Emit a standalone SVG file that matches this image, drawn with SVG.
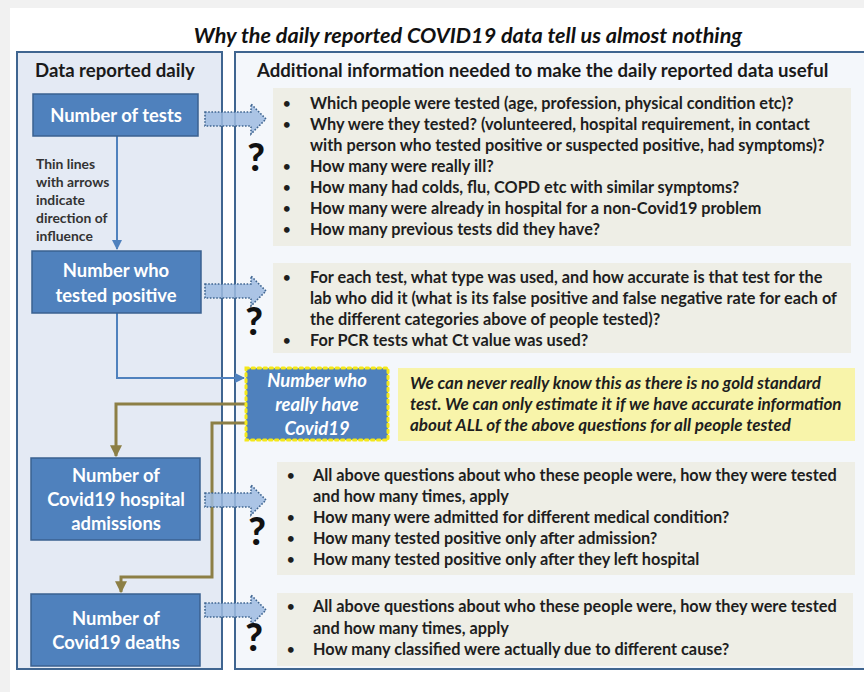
<svg xmlns="http://www.w3.org/2000/svg" width="864" height="692" viewBox="0 0 864 692">
  <style>
    .title { font-family: Lato, "Liberation Sans", sans-serif; font-weight: 700; font-style: italic; font-size: 21.6px; fill: #111; }
    .head { font-family: Lato, "Liberation Sans", sans-serif; font-weight: 700; font-size: 18.6px; fill: #1a1a1a; }
    .panel { stroke: #3f6590; stroke-width: 2; }
    .node rect { fill: #4f81bd; stroke: #3a6190; stroke-width: 1.5; }
    .node text { font-family: Lato, "Liberation Sans", sans-serif; font-weight: 700; font-size: 18.4px; fill: #ffffff; text-anchor: middle; }
    .note { font-family: Lato, "Liberation Sans", sans-serif; font-weight: 700; font-size: 13.9px; fill: #333; }
    .info { fill: #eeeee6; }
    .txt { font-family: Lato, "Liberation Sans", sans-serif; font-weight: 700; font-size: 16.3px; fill: #1e1e1e; }
    .bul { font-family: Lato, "Liberation Sans", sans-serif; font-weight: 700; font-size: 13px; fill: #1e1e1e; }
    .yel { font-family: Lato, "Liberation Sans", sans-serif; font-weight: 700; font-style: italic; font-size: 17px; fill: #1e1e1e; }
    .q { font-family: Lato, "Liberation Sans", sans-serif; font-weight: 900; font-size: 38px; fill: #111; text-anchor: middle; }
    .blk { fill: #9dbbe0; fill-opacity: 0.85; stroke: #3f6590; stroke-width: 1.6; stroke-dasharray: 1.6 1.6; }
    .blue { fill: none; stroke: #4f81bd; stroke-width: 2; }
    .olive { fill: none; stroke: #8c7f45; stroke-width: 3; }
  </style>
  <defs>
    <marker id="arrBlue" viewBox="0 0 10 10" refX="9" refY="5" markerWidth="5" markerHeight="5" orient="auto" markerUnits="strokeWidth">
      <path d="M0,0 L10,5 L0,10 Z" fill="#4f81bd"/>
    </marker>
    <marker id="arrOlive" viewBox="0 0 10 10" refX="9" refY="5" markerWidth="4" markerHeight="4" orient="auto" markerUnits="strokeWidth">
      <path d="M0,0 L10,5 L0,10 Z" fill="#8c7f45"/>
    </marker>
    <path id="blockArrow" d="M0,-7 L46,-7 L46,-15 L61,0 L46,15 L46,7 L0,7 Z"/>
  </defs>

  <!-- page and card -->
  <rect x="0" y="0" width="864" height="692" fill="#f1f1f1"/>
  <rect x="10" y="8" width="860" height="690" fill="#ffffff"/>

  <text class="title" x="468" y="43" text-anchor="middle">Why the daily reported COVID19 data tell us almost nothing</text>

  <!-- panels -->
  <rect class="panel" x="17" y="52" width="205" height="617" fill="#e4eaf4"/>
  <rect class="panel" x="235" y="52" width="640" height="617" fill="#f4f7fb"/>
  <text class="head" x="35" y="77">Data reported daily</text>
  <text class="head" x="257" y="77">Additional information needed to make the daily reported data useful</text>

  <!-- information boxes -->
  <g id="info-tests">
    <rect class="info" x="273" y="88" width="578" height="158"/>
    <text class="bul" x="283" y="108">•</text><text class="txt" x="310" y="109">Which people were tested (age, profession, physical condition etc)?</text>
    <text class="bul" x="283" y="129">•</text><text class="txt" x="310" y="130">Why were they tested? (volunteered, hospital requirement, in contact</text>
    <text class="txt" x="310" y="151">with person who tested positive or suspected positive, had symptoms)?</text>
    <text class="bul" x="283" y="171">•</text><text class="txt" x="310" y="172">How many were really ill?</text>
    <text class="bul" x="283" y="192">•</text><text class="txt" x="310" y="193">How many had colds, flu, COPD etc with similar symptoms?</text>
    <text class="bul" x="283" y="213">•</text><text class="txt" x="310" y="214">How many were already in hospital for a non-Covid19 problem</text>
    <text class="bul" x="283" y="234">•</text><text class="txt" x="310" y="235">How many previous tests did they have?</text>
  </g>
  <g id="info-positive">
    <rect class="info" x="273" y="263" width="578" height="90"/>
    <text class="bul" x="283" y="282">•</text><text class="txt" x="310" y="283">For each test, what type was used, and how accurate is that test for the</text>
    <text class="txt" x="310" y="304">lab who did it (what is its false positive and false negative rate for each of</text>
    <text class="txt" x="310" y="325">the different categories above of people tested)?</text>
    <text class="bul" x="283" y="345">•</text><text class="txt" x="310" y="346">For PCR tests what Ct value was used?</text>
  </g>
  <g id="info-really">
    <rect x="398" y="368" width="457" height="73" fill="#f8f4aa"/>
    <text class="yel" x="410" y="389">We can never really know this as there is no gold standard</text>
    <text class="yel" x="410" y="410">test. We can only estimate it if we have accurate information</text>
    <text class="yel" x="410" y="431">about ALL of the above questions for all people tested</text>
  </g>
  <g id="info-hospital">
    <rect class="info" x="277" y="462" width="578" height="113"/>
    <text class="bul" x="287" y="480">•</text><text class="txt" x="313" y="481">All above questions about who these people were, how they were tested</text>
    <text class="txt" x="313" y="502">and how many times, apply</text>
    <text class="bul" x="287" y="522">•</text><text class="txt" x="313" y="523">How many were admitted for different medical condition?</text>
    <text class="bul" x="287" y="543">•</text><text class="txt" x="313" y="544">How many tested positive only after admission?</text>
    <text class="bul" x="287" y="564">•</text><text class="txt" x="313" y="565">How many tested positive only after they left hospital</text>
  </g>
  <g id="info-deaths">
    <rect class="info" x="277" y="593" width="576" height="73"/>
    <text class="bul" x="287" y="611">•</text><text class="txt" x="313" y="612">All above questions about who these people were, how they were tested</text>
    <text class="txt" x="313" y="634">and how many times, apply</text>
    <text class="bul" x="287" y="654">•</text><text class="txt" x="313" y="655">How many classified were actually due to different cause?</text>
  </g>

  <!-- note on the left -->
  <g id="legend-note">
    <text class="note" x="36" y="169">Thin lines</text>
    <text class="note" x="36" y="187">with arrows</text>
    <text class="note" x="36" y="205">indicate</text>
    <text class="note" x="36" y="223">direction of</text>
    <text class="note" x="36" y="241">influence</text>
  </g>

  <!-- connectors -->
  <g id="connectors">
    <path class="blue" d="M117,136 L117,249" marker-end="url(#arrBlue)"/>
    <path class="blue" d="M117,313 L117,378 L244,378" marker-end="url(#arrBlue)"/>
    <path class="olive" d="M246,404 L116,404 L116,456" marker-end="url(#arrOlive)"/>
    <path class="olive" d="M246,423 L212,423 L212,577 L121,577 L121,592" marker-end="url(#arrOlive)"/>
    <use href="#blockArrow" class="blk" transform="translate(205,119)"/>
    <use href="#blockArrow" class="blk" transform="translate(205,291)"/>
    <use href="#blockArrow" class="blk" transform="translate(205,500)"/>
    <use href="#blockArrow" class="blk" transform="translate(205,610)"/>
  </g>

  <!-- question marks -->
  <text class="q" x="256" y="171">?</text>
  <text class="q" x="254" y="335">?</text>
  <text class="q" x="257" y="545">?</text>
  <text class="q" x="254" y="651">?</text>

  <!-- nodes -->
  <g id="node-tests" class="node">
    <rect x="33" y="94" width="165" height="42"/>
    <text x="116" y="122">Number of tests</text>
  </g>
  <g id="node-positive" class="node">
    <rect x="32" y="251" width="169" height="62"/>
    <text x="116" y="277">Number who</text>
    <text x="116" y="302">tested positive</text>
  </g>
  <g id="node-really" class="node">
    <rect x="246" y="368" width="142" height="72" style="stroke:#f4e81a;stroke-width:3;stroke-dasharray:2.5 3.5;stroke-linecap:round"/>
    <text x="317" y="387" font-style="italic">Number who</text>
    <text x="317" y="411" font-style="italic">really have</text>
    <text x="317" y="435" font-style="italic">Covid19</text>
  </g>
  <g id="node-hospital" class="node">
    <rect x="31" y="458" width="169" height="82"/>
    <text x="116" y="482">Number of</text>
    <text x="116" y="506">Covid19 hospital</text>
    <text x="116" y="530">admissions</text>
  </g>
  <g id="node-deaths" class="node">
    <rect x="31" y="594" width="169" height="72"/>
    <text x="116" y="625">Number of</text>
    <text x="116" y="649">Covid19 deaths</text>
  </g>
</svg>
